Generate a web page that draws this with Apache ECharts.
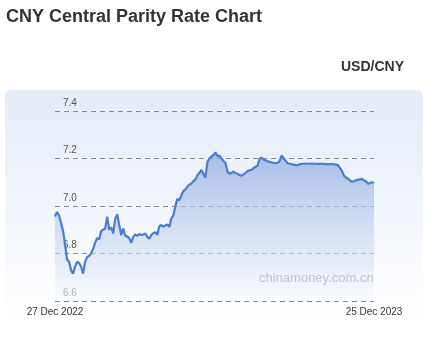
<!DOCTYPE html>
<html>
<head>
<meta charset="utf-8">
<script src="https://cdn.jsdelivr.net/npm/echarts@6/dist/echarts.min.js"></script>
<style>
  html, body { margin: 0; padding: 0; background: #fff; }
  #main { width: 437px; height: 351px; }
</style>
</head>
<body>
<div id="main"></div>
<script>
// USD/CNY central parity, 27 Dec 2022 - 25 Dec 2023
var rates = [
  6.955, 6.975, 6.96, 6.93, 6.895, 6.84, 6.775, 6.765, 6.73, 6.715,
  6.745, 6.765, 6.76, 6.745, 6.715, 6.765, 6.785, 6.79, 6.8, 6.82,
  6.845, 6.865, 6.86, 6.895, 6.9, 6.905, 6.955, 6.9, 6.91, 6.885,
  6.945, 6.965, 6.92, 6.878, 6.905, 6.875, 6.872, 6.865, 6.845, 6.87,
  6.88, 6.875, 6.882, 6.878, 6.88, 6.884, 6.87, 6.862, 6.878, 6.885,
  6.89, 6.878, 6.915, 6.92, 6.912, 6.918, 6.922, 6.912, 6.948, 6.96,
  7.0, 7.03, 7.025, 7.045, 7.063, 7.07, 7.082, 7.09, 7.095, 7.105,
  7.112, 7.13, 7.14, 7.152, 7.135, 7.12, 7.187, 7.2, 7.208, 7.215,
  7.225, 7.21, 7.212, 7.2, 7.19, 7.18, 7.145, 7.135, 7.14, 7.145,
  7.138, 7.136, 7.13, 7.128, 7.133, 7.14, 7.147, 7.15, 7.152, 7.16,
  7.165, 7.17, 7.2, 7.203, 7.196, 7.192, 7.188, 7.186, 7.183, 7.182,
  7.18, 7.182, 7.19, 7.213, 7.2, 7.19, 7.18, 7.178, 7.176, 7.174,
  7.172, 7.172, 7.176, 7.178, 7.178, 7.179, 7.178, 7.178, 7.179, 7.178,
  7.178, 7.177, 7.178, 7.177, 7.177, 7.176, 7.176, 7.176, 7.176, 7.176,
  7.174, 7.172, 7.16, 7.148, 7.128, 7.12, 7.115, 7.108, 7.102, 7.104,
  7.108, 7.11, 7.112, 7.114, 7.108, 7.104, 7.094, 7.097, 7.1, 7.098
]
var dateLabels = ['27 Dec 2022', '25 Dec 2023']
var yMin = 6.6, yMax = 7.4, yStep = 0.2

var days = rates.map(function (v, i) { return i })
var last = rates.length - 1

var chart = echarts.init(document.getElementById('main'))
chart.setOption({
  animation: false,
  textStyle: { fontFamily: 'Liberation Sans, Arial, sans-serif' },
  title: [
    {
      text: 'CNY Central Parity Rate Chart',
      left: 1, top: 3,
      textStyle: { fontSize: 18, fontWeight: 'bold', color: '#333' }
    },
    {
      text: 'USD/CNY',
      left: 336, top: 55,
      textStyle: { fontSize: 14, fontWeight: 'bold', color: '#333' }
    }
  ],
  graphic: [
    {
      type: 'rect',
      z: -10,
      silent: true,
      shape: { x: 5, y: 90, width: 418, height: 236, r: 6 },
      style: {
        fill: new echarts.graphic.LinearGradient(0, 0, 0, 1, [
          { offset: 0, color: '#e4ecf9' },
          { offset: 1, color: '#ffffff' }
        ])
      }
    },
    {
      type: 'text',
      z: 100,
      silent: true,
      left: 259, top: 272,
      style: {
        text: 'chinamoney.com.cn',
        fill: '#c4c4c4',
        font: '13px "Liberation Sans", Arial, sans-serif'
      }
    }
  ],
  grid: { left: 55, right: 63, top: 111, bottom: 50 },
  xAxis: {
    type: 'category',
    boundaryGap: false,
    data: days,
    axisLine: { show: false },
    axisTick: { show: false },
    splitLine: { show: false },
    axisLabel: {
      interval: function (i) { return i === 0 || i === last },
      formatter: function (v, i) { return i === 0 ? dateLabels[0] : dateLabels[1] },
      margin: 6,
      fontSize: 10,
      color: '#333'
    }
  },
  yAxis: {
    type: 'value',
    min: yMin, max: yMax, interval: yStep,
    axisLine: { show: false },
    axisTick: { show: false },
    axisLabel: {
      inside: true,
      margin: 8,
      verticalAlign: 'bottom',
      padding: [0, 0, 3, 0],
      fontSize: 10,
      color: '#555',
      formatter: function (v) { return v.toFixed(1) }
    },
    splitLine: {
      lineStyle: { color: '#8c8c8c', type: [5, 4], width: 1 }
    }
  },
  series: [{
    type: 'line',
    data: rates,
    symbol: 'none',
    smooth: false,
    lineStyle: { color: '#4a7dcc', width: 2.2 },
    areaStyle: {
      color: new echarts.graphic.LinearGradient(0, 0, 0, 1, [
        { offset: 0, color: 'rgba(128,162,220,0.92)' },
        { offset: 1, color: 'rgba(248,250,254,0.8)' }
      ])
    }
  }]
})
</script>
</body>
</html>
